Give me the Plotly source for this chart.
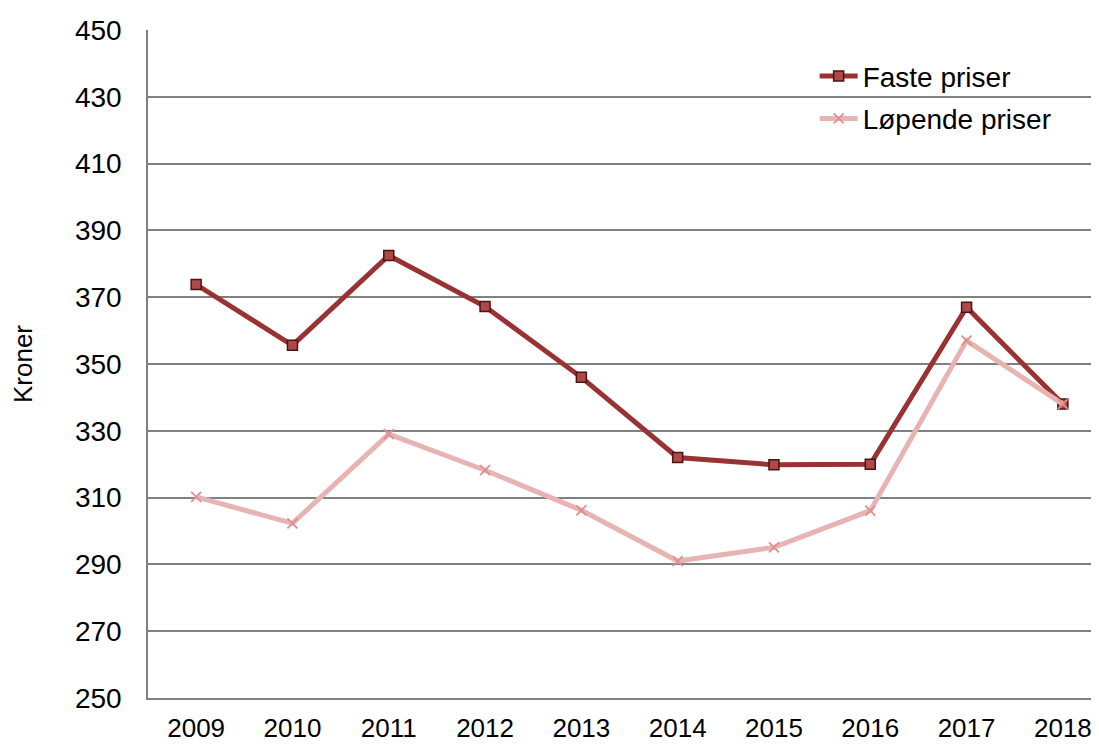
import plotly.graph_objects as go

years = ["2009", "2010", "2011", "2012", "2013", "2014", "2015", "2016", "2017", "2018"]
faste = [373.8, 355.6, 382.5, 367.2, 346.0, 322.0, 319.8, 320.0, 367.0, 338.0]
lopende = [310.2, 302.3, 329.0, 318.2, 306.2, 291.0, 295.1, 306.1, 357.0, 338.0]
y_ticks = [250, 270, 290, 310, 330, 350, 370, 390, 410, 430, 450]

fig = go.Figure()
fig.add_trace(go.Scatter(
    x=years, y=faste, name="Faste priser", mode="lines+markers",
    legendgroup="a",
    line=dict(color="#993333", width=5),
    marker=dict(symbol="square", size=10, color="#b04848",
                line=dict(color="#4a1414", width=1.5)),
))
fig.add_trace(go.Scatter(
    x=years, y=lopende, name="Løpende priser", mode="lines+markers",
    legendgroup="b",
    line=dict(color="#E8B3B3", width=5),
    marker=dict(symbol="x-thin", size=10, color="#E08F8F",
                line=dict(color="#E08F8F", width=1.8)),
))

fig.update_layout(
    width=1091, height=737,
    margin=dict(l=140, r=0, t=22, b=47, autoexpand=False),
    paper_bgcolor="white", plot_bgcolor="white",
    font=dict(family="Liberation Sans, Arial, sans-serif", size=28, color="black"),
    showlegend=True,
    legend=dict(x=0.701, y=0.968, xanchor="left", yanchor="top",
                bgcolor="rgba(0,0,0,0)", font=dict(size=28),
                tracegroupgap=3, itemwidth=38),
    xaxis=dict(type="category", range=[-0.5, 9.375], showgrid=False,
               showline=True, linecolor="#808080", linewidth=1.5,
               ticks="", tickfont=dict(size=26), ticklabelstandoff=6,
               automargin=False),
    yaxis=dict(range=[250, 450], tickvals=y_ticks, showgrid=True,
               gridcolor="#808080", gridwidth=1.5, showline=True,
               linecolor="#808080", linewidth=1.5, ticks="", zeroline=False,
               tickfont=dict(size=28), ticklabelstandoff=19, automargin=False,
               title=dict(text="Kroner", font=dict(size=26), standoff=35)),
)

fig.write_html("out.html")
